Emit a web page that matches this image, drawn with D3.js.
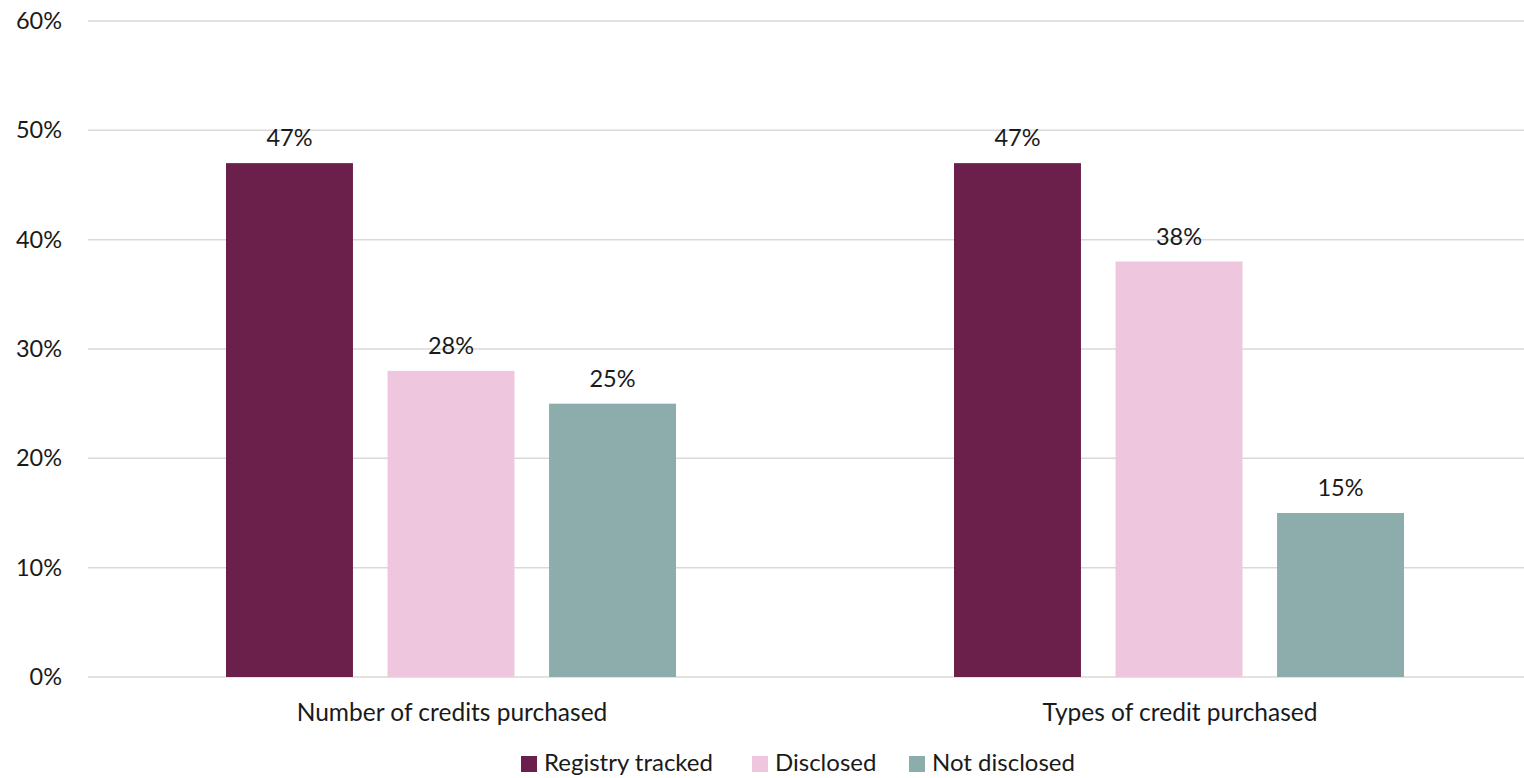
<!DOCTYPE html>
<html>
<head>
<meta charset="utf-8">
<script src="https://cdn.jsdelivr.net/npm/d3@7"></script>
<style>
  html, body { margin: 0; padding: 0; background: #fff; }
  svg text { font-family: Lato, "Open Sans", sans-serif; fill: #1a1a1a; }
</style>
</head>
<body>
<svg id="chart" width="1524" height="778"></svg>
<script>
// Share of companies by disclosure of carbon credit purchases
const categories = ["Number of credits purchased", "Types of credit purchased"];
const seriesNames = ["Registry tracked", "Disclosed", "Not disclosed"];
const registryTracked = [47, 47];
const disclosed = [28, 38];
const notDisclosed = [25, 15];
const yTicks = [0, 10, 20, 30, 40, 50, 60];
const colors = ["#6b1f4b", "#eec6dd", "#8dadad"];

const seriesValues = [registryTracked, disclosed, notDisclosed];
const rows = categories.map((c, i) => ({
  category: c,
  values: seriesNames.map((s, j) => ({ series: s, value: seriesValues[j][i], color: colors[j] }))
}));

const svg = d3.select("#chart");
const plot = { left: 88, right: 1544, top: 21, bottom: 677 };

const y = d3.scaleLinear().domain([0, 60]).range([plot.bottom, plot.top]);
const x0 = d3.scaleBand().domain(categories).range([plot.left, plot.right]).paddingInner(0).paddingOuter(0);
const x1 = d3.scaleBand().domain(seriesNames).range([138, 588]).paddingInner(0.214).paddingOuter(0);

// Horizontal gridlines
svg.append("g")
  .selectAll("line")
  .data(yTicks)
  .join("line")
  .attr("x1", plot.left)
  .attr("x2", 1524)
  .attr("y1", d => y(d))
  .attr("y2", d => y(d))
  .attr("stroke", "#d9d9d9")
  .attr("stroke-width", 1.5);

// Y axis labels
const yAxis = d3.axisLeft(y).tickValues(yTicks).tickFormat(d => d + "%").tickSize(0).tickPadding(0);
const yg = svg.append("g").attr("transform", `translate(62,0)`).call(yAxis);
yg.select(".domain").remove();
yg.selectAll("text")
  .attr("font-size", 23.5)
  .attr("fill", "#1a1a1a")
  .style("font-family", "Lato, 'Open Sans', sans-serif");

// Bars
const groups = svg.append("g")
  .selectAll("g")
  .data(rows)
  .join("g")
  .attr("transform", d => `translate(${x0(d.category)},0)`);

groups.selectAll("rect")
  .data(d => d.values)
  .join("rect")
  .attr("x", d => x1(d.series))
  .attr("width", x1.bandwidth())
  .attr("y", d => y(d.value))
  .attr("height", d => y(0) - y(d.value))
  .attr("fill", d => d.color);

// Value labels
groups.selectAll("text")
  .data(d => d.values)
  .join("text")
  .attr("x", d => x1(d.series) + x1.bandwidth() / 2)
  .attr("y", d => y(d.value) - 17)
  .attr("text-anchor", "middle")
  .attr("font-size", 23.5)
  .text(d => d.value + "%");

// Category axis
const xAxis = d3.axisBottom(x0).tickSize(0).tickPadding(0);
const xg = svg.append("g").attr("transform", `translate(0,${plot.bottom})`).call(xAxis);
xg.select(".domain").remove();
xg.selectAll("text")
  .attr("y", 44)
  .attr("dy", null)
  .attr("font-size", 24.5)
  .attr("fill", "#1a1a1a")
  .style("font-family", "Lato, 'Open Sans', sans-serif");

// Legend
const legendItems = [
  { name: seriesNames[0], color: colors[0], x: 521 },
  { name: seriesNames[1], color: colors[1], x: 752 },
  { name: seriesNames[2], color: colors[2], x: 909 }
];
const legend = svg.append("g")
  .selectAll("g")
  .data(legendItems)
  .join("g")
  .attr("transform", d => `translate(${d.x},762)`);
legend.append("rect")
  .attr("x", 0).attr("y", -6)
  .attr("width", 16).attr("height", 16)
  .attr("fill", d => d.color);
legend.append("text")
  .attr("x", 23)
  .attr("y", 0)
  .attr("dy", "0.36em")
  .attr("font-size", 24)
  .text(d => d.name);
</script>
</body>
</html>
